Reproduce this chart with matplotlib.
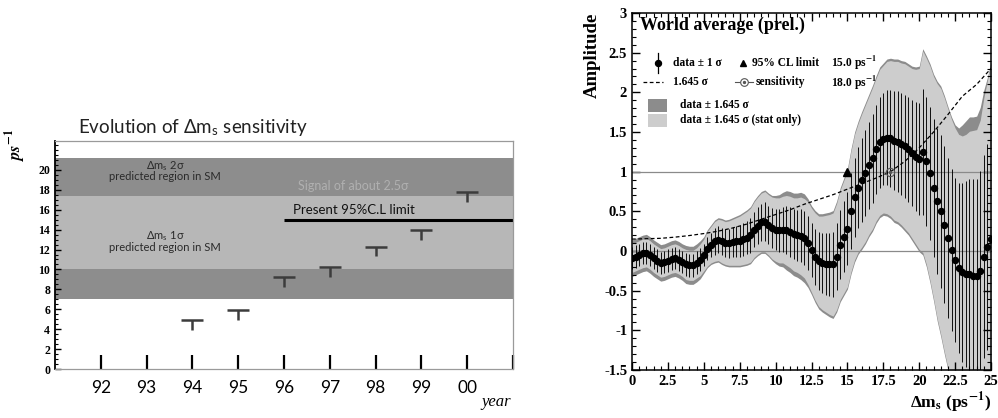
import numpy as np
import matplotlib.pyplot as plt
from matplotlib.ticker import MultipleLocator, FuncFormatter

plt.rcParams['mathtext.fontset'] = 'stix'
plt.rcParams['font.family'] = ['Liberation Serif', 'DejaVu Sans']
plt.rcParams['font.weight'] = 'bold'

# ---- left panel : evolution of the sensitivity ----
years = [94, 95, 96, 97, 98, 99, 100]
sens_year = [4.9, 5.9, 9.2, 10.2, 12.3, 14.0, 17.8]
stem = 1.0
year_ticks = [92, 93, 94, 95, 96, 97, 98, 99, 100, 101]
year_labels = ['92', '93', '94', '95', '96', '97', '98', '99', '00', '']
sm_2sig = [7.0, 21.2]
sm_1sig = [10.0, 17.4]
cl_limit = 15.0
cl_from = 96

# ---- right panel : amplitude scan ----
dms = np.arange(0, 25.01, 0.25)
amp = [-0.09, -0.07, -0.05, -0.03, -0.02, -0.05, -0.09, -0.12, -0.15, -0.14,
       -0.12, -0.10, -0.09, -0.11, -0.14, -0.17, -0.18, -0.18, -0.15, -0.11,
       -0.05, 0.03, 0.08, 0.12, 0.14, 0.12, 0.10, 0.10, 0.11, 0.12,
       0.13, 0.15, 0.17, 0.20, 0.27, 0.32, 0.36, 0.37, 0.33, 0.29,
       0.27, 0.26, 0.27, 0.26, 0.24, 0.21, 0.20, 0.19, 0.16, 0.10,
       0.01, -0.07, -0.13, -0.15, -0.16, -0.17, -0.17, -0.07, 0.08, 0.18,
       0.28, 0.50, 0.68, 0.80, 0.89, 0.98, 1.08, 1.17, 1.28, 1.37,
       1.41, 1.43, 1.42, 1.39, 1.38, 1.35, 1.32, 1.28, 1.23, 1.19,
       1.16, 1.25, 1.13, 0.98, 0.80, 0.63, 0.50, 0.33, 0.16, 0.01,
       -0.11, -0.21, -0.27, -0.29, -0.29, -0.31, -0.32, -0.25, -0.07, 0.05,
       0.15]
# 1.645 sigma half widths, stat only and total
hw_stat = [0.18, 0.18, 0.18, 0.18, 0.18, 0.18, 0.18, 0.18, 0.18, 0.18,
           0.18, 0.18, 0.18, 0.18, 0.18, 0.19, 0.19, 0.19, 0.19, 0.20,
           0.20, 0.22, 0.23, 0.25, 0.26, 0.27, 0.27, 0.28, 0.29, 0.30,
           0.31, 0.32, 0.33, 0.34, 0.35, 0.36, 0.37, 0.38, 0.38, 0.39,
           0.40, 0.41, 0.42, 0.44, 0.45, 0.46, 0.47, 0.49, 0.50, 0.52,
           0.53, 0.55, 0.57, 0.59, 0.61, 0.63, 0.65, 0.67, 0.69, 0.71,
           0.73, 0.76, 0.79, 0.81, 0.84, 0.86, 0.87, 0.89, 0.90, 0.92,
           0.93, 0.96, 0.98, 1.00, 1.01, 1.02, 1.04, 1.05, 1.07, 1.10,
           1.14, 1.27, 1.30, 1.35, 1.40, 1.48, 1.55, 1.60, 1.63, 1.65,
           1.66, 1.68, 1.72, 1.76, 1.80, 1.83, 1.85, 1.90, 2.00, 2.10,
           2.20]
hw_tot = [0.23, 0.23, 0.23, 0.23, 0.23, 0.23, 0.23, 0.23, 0.23, 0.23,
          0.23, 0.23, 0.23, 0.23, 0.23, 0.24, 0.24, 0.24, 0.24, 0.24,
          0.23, 0.24, 0.25, 0.27, 0.28, 0.29, 0.29, 0.30, 0.31, 0.32,
          0.33, 0.34, 0.35, 0.36, 0.37, 0.38, 0.39, 0.40, 0.40, 0.41,
          0.43, 0.45, 0.47, 0.50, 0.51, 0.52, 0.53, 0.55, 0.56, 0.56,
          0.56, 0.58, 0.60, 0.62, 0.64, 0.66, 0.68, 0.70, 0.72, 0.74,
          0.76, 0.79, 0.82, 0.84, 0.87, 0.89, 0.90, 0.92, 0.93, 0.95,
          0.96, 0.99, 1.01, 1.03, 1.04, 1.05, 1.07, 1.08, 1.10, 1.13,
          1.17, 1.30, 1.33, 1.38, 1.43, 1.51, 1.58, 1.63, 1.66, 1.68,
          1.70, 1.76, 1.86, 1.93, 1.98, 2.00, 2.02, 2.06, 2.10, 2.14,
          2.24]
sens_x = list(range(26))
sens_curve = [0.15, 0.155, 0.16, 0.175, 0.195, 0.22, 0.25, 0.29, 0.34, 0.40,
              0.46, 0.52, 0.59, 0.65, 0.71, 0.78, 0.85, 0.92, 1.00, 1.13,
              1.30, 1.50, 1.72, 1.95, 2.10, 2.30]
limit_dms = 15.0
sensitivity_dms = 18.0

amp = np.array(amp)
hw_stat = np.array(hw_stat)
hw_tot = np.array(hw_tot)

fig = plt.figure(figsize=(9.98, 4.18), dpi=100)

# ================= left panel =================
axl = fig.add_axes([0.0551, 0.1172, 0.4589, 0.5455])
axl.set_xlim(91, 101)
axl.set_ylim(0, 22.9)
axl.axhspan(sm_2sig[0], sm_2sig[1], color='#8d8d8d', lw=0)
axl.axhspan(sm_1sig[0], sm_1sig[1], color='#b7b7b7', lw=0)
axl.hlines(cl_limit, cl_from, 101, color='black', lw=2.2)
yrs = np.array(years)
axl.hlines(sens_year, yrs - 0.24, yrs + 0.24, color='#3c3c3c', lw=1.8)
axl.vlines(yrs, np.array(sens_year) - stem, sens_year, color='#3c3c3c', lw=1.8)

sans = ['Lato', 'DejaVu Sans']
axl.text(96.2, cl_limit + 0.35, 'Present 95%C.L limit', family=sans, weight='normal',
         fontsize=9.5, color='#111111', va='bottom')
axl.text(96.3, 18.35, 'Signal of about 2.5σ', family=sans, weight='normal',
         fontsize=9, color='#b0b0b0', va='center')
axl.text(93.4, 19.9, 'Δm$_\\mathregular{s}$ 2σ\npredicted region in SM', family=sans,
         weight='normal', fontsize=8, color='#2a2a2a', ha='center', va='center',
         linespacing=0.85)
axl.text(93.4, 12.8, 'Δm$_\\mathregular{s}$ 1σ\npredicted region in SM', family=sans,
         weight='normal', fontsize=8, color='#2a2a2a', ha='center', va='center',
         linespacing=0.85)
axl.text(0.05, 1.057, 'Evolution of Δm$_\\mathregular{s}$ sensitivity', family=sans,
         weight='normal', fontsize=13.5, color='#222222', transform=axl.transAxes,
         va='center')

axl.set_xticks(year_ticks, year_labels, family=sans, weight='normal', fontsize=12.5)
axl.tick_params(axis='x', direction='in', length=10, width=1.6, pad=8)
axl.set_yticks(range(0, 21, 2))
axl.yaxis.set_minor_locator(MultipleLocator(0.5))
axl.tick_params(axis='y', which='major', direction='in', length=4, width=1, labelsize=8.5)
axl.tick_params(axis='y', which='minor', direction='in', length=2, width=0.8)
axl.spines['left'].set_linewidth(1.3)
for s in ['top', 'right', 'bottom']:
    axl.spines[s].set_color('#9a9a9a')
    axl.spines[s].set_linewidth(0.9)

fig.text(16 / 998, 1 - 145 / 418, '$ps^{-1}$', rotation=90, fontsize=12,
         ha='center', va='center')
fig.text(511 / 998, 1 - 402 / 418, 'year', style='italic', weight='normal',
         fontsize=12, ha='right', va='center')

# ================= right panel =================
axr = fig.add_axes([0.6333, 0.1148, 0.3597, 0.8541])
axr.set_xlim(0, 25)
axr.set_ylim(-1.5, 3)
axr.fill_between(dms, amp - hw_tot, amp + hw_tot, color='#8c8c8c', lw=0)
axr.fill_between(dms, amp - hw_stat, amp + hw_stat, color='#cdcdcd', lw=0)
axr.axhline(0, color='#8a8a8a', lw=0.9)
axr.axhline(1, color='#8a8a8a', lw=0.9)
axr.vlines(dms, amp - hw_tot / 1.645, amp + hw_tot / 1.645, color='black', lw=0.65)
axr.plot(sens_x, sens_curve, color='black', lw=0.9, dashes=(3, 2))
axr.plot(dms, amp, 'o', color='black', ms=4.3)
axr.plot(limit_dms, 1, '^', color='black', ms=6)
axr.plot(sensitivity_dms, 1, 'o', mfc='none', mec='#555555', ms=6, mew=0.8)
axr.plot(sensitivity_dms, 1, 'o', color='#555555', ms=1.5)

axr.xaxis.set_major_locator(MultipleLocator(2.5))
axr.xaxis.set_minor_locator(MultipleLocator(0.5))
axr.yaxis.set_major_locator(MultipleLocator(0.5))
axr.yaxis.set_minor_locator(MultipleLocator(0.1))
fmt = FuncFormatter(lambda v, p: '%g' % v)
axr.xaxis.set_major_formatter(fmt)
axr.yaxis.set_major_formatter(fmt)
axr.tick_params(which='both', direction='in', top=True, right=True, labelsize=10.5)
axr.tick_params(which='major', length=6, width=1)
axr.tick_params(which='minor', length=3, width=0.8)
for s in axr.spines.values():
    s.set_linewidth(1.1)

axr.text(1.0, -0.092, 'Δm$_\\mathbf{s}$ (ps$^{\\mathbf{-1}}$)', transform=axr.transAxes,
         ha='right', va='center', fontsize=12.5)
axr.text(-0.111, 1.0, 'Amplitude', transform=axr.transAxes, rotation=90,
         ha='center', va='top', fontsize=13.5)
axr.text(0.022, 0.965, 'World average (prel.)', transform=axr.transAxes,
         va='center', fontsize=13)

# hand made legend
T = axr.transAxes
fs = 8.3
r1, r2 = 0.860, 0.808
axr.plot([0.072, 0.072], [r1 - 0.028, r1 + 0.028], color='black', lw=0.9, transform=T)
axr.plot(0.072, r1, 'o', color='black', ms=4.3, transform=T)
axr.text(0.114, r1, 'data ± 1 σ', transform=T, va='center', fontsize=fs)
axr.plot(0.309, r1, '^', color='black', ms=5, transform=T)
axr.text(0.334, r1, '95% CL limit', transform=T, va='center', fontsize=fs)
axr.text(0.554, r1, '15.0 ps$^{\\mathbf{-1}}$', transform=T, va='center', fontsize=fs)
axr.plot([0.031, 0.086], [r2, r2], color='black', lw=0.9, dashes=(3, 2), transform=T)
axr.text(0.114, r2, '1.645 σ', transform=T, va='center', fontsize=fs)
axr.plot([0.288, 0.336], [r2, r2], color='#555555', lw=0.8, transform=T)
axr.plot(0.312, r2, 'o', mfc='white', mec='#555555', ms=5.5, mew=0.8, transform=T)
axr.plot(0.312, r2, 'o', color='#555555', ms=1.4, transform=T)
axr.text(0.345, r2, 'sensitivity', transform=T, va='center', fontsize=fs)
axr.text(0.554, r2 - 0.004, '18.0 ps$^{\\mathbf{-1}}$', transform=T, va='center', fontsize=fs)
axr.add_patch(plt.Rectangle((0.045, 0.724), 0.052, 0.036, color='#8c8c8c', lw=0, transform=T))
axr.text(0.134, 0.742, 'data ± 1.645 σ', transform=T, va='center', fontsize=fs)
axr.add_patch(plt.Rectangle((0.045, 0.682), 0.052, 0.036, color='#cdcdcd', lw=0, transform=T))
axr.text(0.134, 0.700, 'data ± 1.645 σ (stat only)', transform=T, va='center', fontsize=fs)

fig.savefig('out.png', dpi=100)
